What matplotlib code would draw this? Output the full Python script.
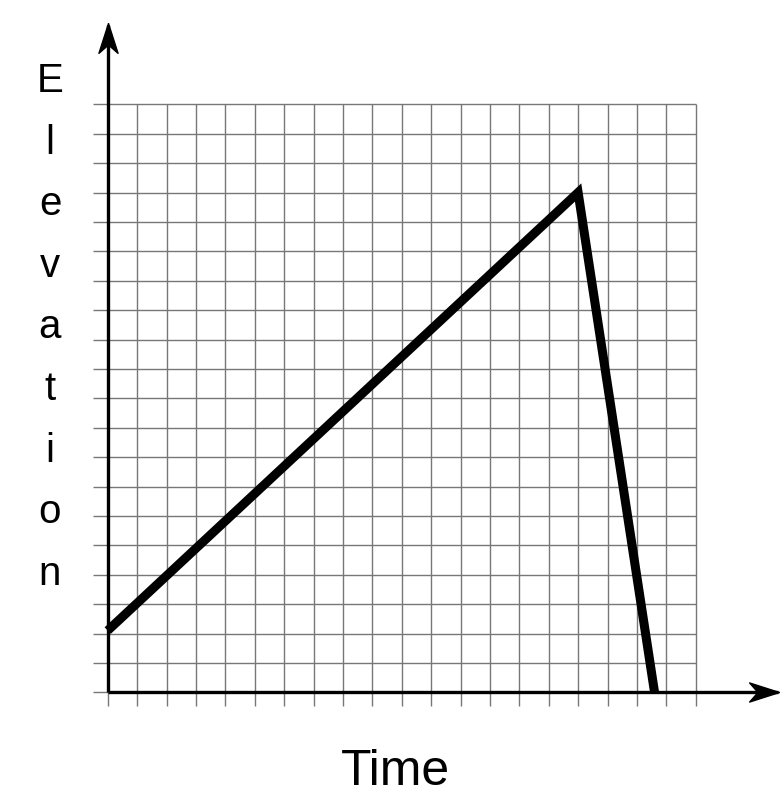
import matplotlib
matplotlib.use('Agg')
import matplotlib.pyplot as plt
import numpy as np

# data: elevation over time (grid units)
time_pts = [0, 16, 18.6]
elev_pts = [2.1, 17, 0]
grid_ticks = list(range(0, 21))
y_label = 'Elevation'
x_label = 'Time'

plt.rcParams['font.family'] = ['Liberation Sans', 'DejaVu Sans']

W, H = 784, 810
fig = plt.figure(figsize=(W / 100, H / 100), dpi=100)
ax = fig.add_axes([0, 0, 1, 1])
ax.set_axis_off()

# pixel mapping: origin at (107.7, 692.3), 29.4 px per unit
ox, oy, step = 107.7, 692.3, 29.4
ax.set_xlim(-ox / step, (W - ox) / step)
ax.set_ylim((oy - H) / step, oy / step)

# grid
ax.vlines(grid_ticks, -0.45, 20, color='#777777', lw=1.0, zorder=1)
ax.hlines(grid_ticks, -0.5, 20, color='#777777', lw=1.0, zorder=1)

# axes with stealth arrows
ax.plot([0, 22.8], [0, 0], color='black', lw=2.4, zorder=3, solid_capstyle='butt')
ax.plot([0, 0], [0, 22.7], color='black', lw=2.4, zorder=3, solid_capstyle='butt')
head_x = [(0, 0), (-1, 0.32), (-0.72, 0), (-1, -0.32), (0, 0)]
head_y = [(0, 0), (-0.32, -1), (0, -0.72), (0.32, -1), (0, 0)]
ax.plot([22.85], [0], marker=head_x, markersize=43, color='black', zorder=4)
ax.plot([0], [22.75], marker=head_y, markersize=43, color='black', zorder=4)

# data line
ax.plot(time_pts, elev_pts, color='black', lw=6.5, zorder=5, solid_capstyle='butt', solid_joinstyle='miter')

# labels
for i, ch in enumerate(y_label):
    base = 92 + 61.6 * i
    fig.text(50 / W, 1 - base / H, ch, ha='center', va='baseline', fontsize=29)
fig.text(395 / W, 1 - 785 / H, x_label, ha='center', va='baseline', fontsize=36)

fig.savefig('out.png', dpi=100)
